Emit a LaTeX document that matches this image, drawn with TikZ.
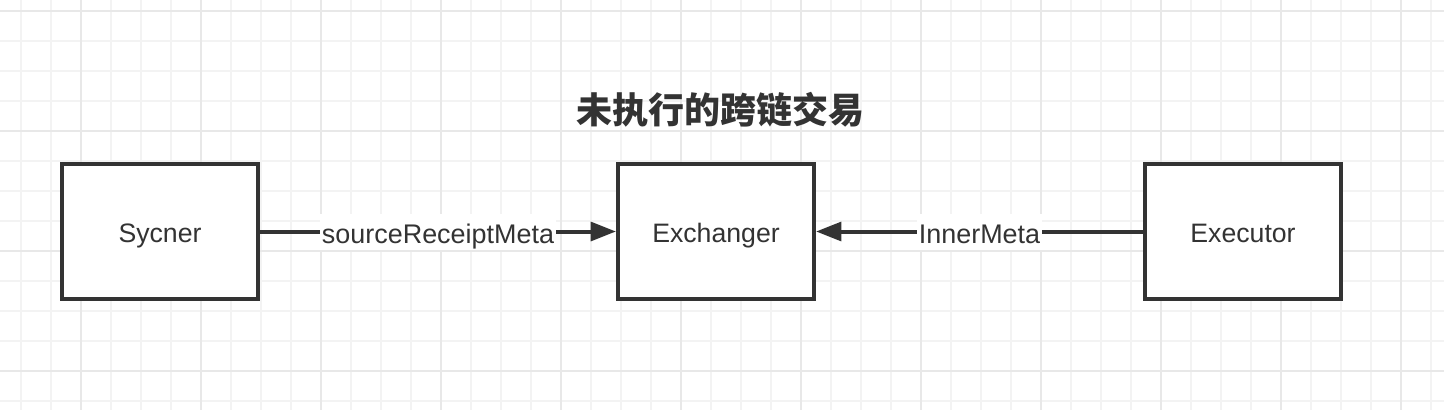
\documentclass[tikz,border=0pt]{standalone}
\usepackage{fontspec}
\setmainfont{Liberation Sans}
\newfontfamily\cjk{Noto Sans CJK SC}
\usetikzlibrary{arrows.meta,positioning}
\definecolor{INK}{HTML}{333333}
\definecolor{MINOR}{HTML}{F3F3F3}
\definecolor{MAJOR}{HTML}{E8E8E8}

\begin{document}
\begin{tikzpicture}[x=0.75pt,y=-0.75pt]
\tikzstyle{minorLine}=[draw=MINOR,line width=0.9pt]
\tikzstyle{majorLine}=[draw=MAJOR,line width=1.1pt]
\tikzstyle{block}=[draw=INK,line width=3pt,fill=white,minimum width=147pt,minimum height=101.25pt,text=INK,text height=17pt,text depth=0pt,font=\fontsize{20}{24}\selectfont]
\tikzstyle{myEdge}=[draw=INK,line width=3pt,-{Triangle[length=19pt,width=14pt]}]
\tikzstyle{annot}=[fill=white,text=INK,inner sep=1.5pt,text height=21pt,text depth=3pt,font=\fontsize{20.2}{24}\selectfont]

\useasboundingbox (0,0) rectangle (1444,410);
\fill[white] (0,0) rectangle (1444,410);

%% grid paper
\foreach \x in {21,51,...,1431}
    \draw[minorLine] (\x,0) -- (\x,410);
\foreach \y in {11,41,...,401}
    \draw[minorLine] (0,\y) -- (1444,\y);
\foreach \x in {81,201,...,1401}
    \draw[majorLine] (\x,0) -- (\x,410);
\foreach \y in {11,131,...,371}
    \draw[majorLine] (0,\y) -- (1444,\y);

\node[text=INK,font=\cjk\bfseries\fontsize{27}{30}\selectfont] (title) at (720,110) {未执行的跨链交易};

\node[block] (sycnerBox) at (160,231.5) {Sycner};
\node[block] (exchangerBox) at (716,231.5) {Exchanger};
\node[block] (executorBox) at (1243,231.5) {Executor};

\draw[myEdge] (sycnerBox) -- node[annot] {sourceReceiptMeta} (exchangerBox);
\draw[myEdge] (executorBox) -- node[annot] {InnerMeta} (exchangerBox);
\end{tikzpicture}
\end{document}
